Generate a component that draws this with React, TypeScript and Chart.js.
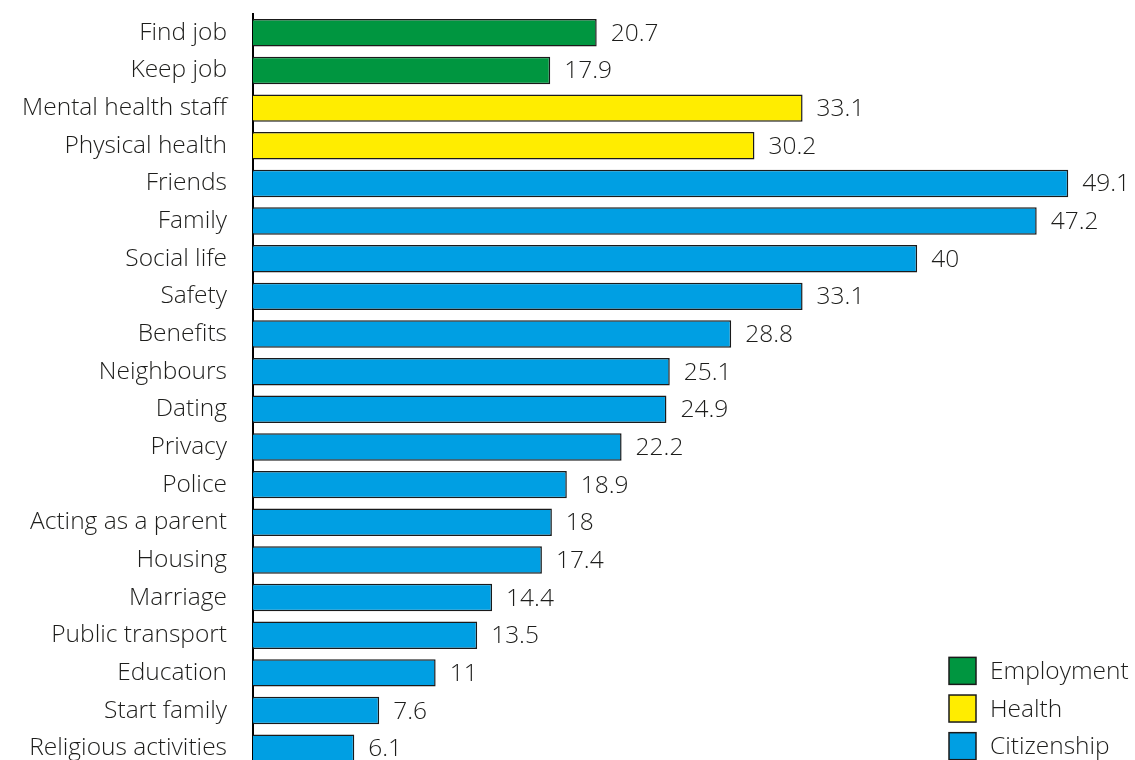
import React, { useEffect, useRef } from "react";
import { Chart, registerables } from "chart.js";

Chart.register(...registerables);

const categories = [
  "Find job", "Keep job", "Mental health staff", "Physical health", "Friends", "Family",
  "Social life", "Safety", "Benefits", "Neighbours", "Dating", "Privacy", "Police",
  "Acting as a parent", "Housing", "Marriage", "Public transport", "Education",
  "Start family", "Religious activities",
];
const employment = [20.7, 17.9, null, null, null, null, null, null, null, null, null, null, null, null, null, null, null, null, null, null];
const health = [null, null, 33.1, 30.2, null, null, null, null, null, null, null, null, null, null, null, null, null, null, null, null];
const citizenship = [null, null, null, null, 49.1, 47.2, 40, 33.1, 28.8, 25.1, 24.9, 22.2, 18.9, 18, 17.4, 14.4, 13.5, 11, 7.6, 6.1];
const seriesNames = ["Employment", "Health", "Citizenship"];
const seriesColors = ["#009640", "#FFED00", "#009FE3"];

const FONT = "'Open Sans', sans-serif";
const WEIGHT = "350";
const SIZE = 24.5;
const TEXT = "#1d1d1b";

const valueLabels = {
  id: "valueLabels",
  afterDatasetsDraw(chart: any) {
    const ctx = chart.ctx;
    ctx.save();
    ctx.font = `${WEIGHT} ${SIZE}px ${FONT}`;
    ctx.fillStyle = TEXT;
    ctx.textBaseline = "middle";
    ctx.textAlign = "left";
    chart.data.datasets.forEach((ds: any, di: number) => {
      const meta = chart.getDatasetMeta(di);
      meta.data.forEach((el: any, i: number) => {
        const v = ds.data[i];
        if (v === null || v === undefined) return;
        ctx.fillText(String(v), el.x + 14, el.y + 1);
      });
    });
    ctx.restore();
  },
};

const customLegend = {
  id: "customLegend",
  afterDraw(chart: any) {
    const ctx = chart.ctx;
    const yScale = chart.scales.y;
    const n = chart.data.datasets.length;
    const last = chart.data.labels.length - 1;
    ctx.save();
    ctx.font = `${WEIGHT} ${SIZE}px ${FONT}`;
    ctx.textBaseline = "middle";
    ctx.textAlign = "left";
    chart.data.datasets.forEach((ds: any, i: number) => {
      const y = yScale.getPixelForValue(last - (n - 1) + i) - 2;
      const size = 27;
      ctx.fillStyle = ds.backgroundColor;
      ctx.fillRect(949, y - size / 2, size, size);
      ctx.strokeStyle = "#1a1a1a";
      ctx.lineWidth = 1.5;
      ctx.strokeRect(949, y - size / 2, size, size);
      ctx.fillStyle = TEXT;
      ctx.fillText(ds.label, 990, y + 1);
    });
    ctx.restore();
  },
};

export default function App() {
  const ref = useRef<HTMLCanvasElement>(null);
  useEffect(() => {
    if (!ref.current) return;
    const chart = new Chart(ref.current, {
      type: "bar",
      data: {
        labels: categories,
        datasets: [employment, health, citizenship].map((d, i) => ({
          label: seriesNames[i],
          data: d,
          backgroundColor: seriesColors[i],
          borderColor: "#1a1a1a",
          borderWidth: 1.5,
          barPercentage: 0.73,
          categoryPercentage: 1,
          grouped: false,
        })),
      },
      options: {
        indexAxis: "y",
        animation: false,
        responsive: true,
        maintainAspectRatio: false,
        layout: { padding: { top: 14, right: 2, bottom: 0, left: 0 } },
        plugins: { legend: { display: false }, tooltip: { enabled: false } },
        scales: {
          x: { display: false, min: 0, max: 53 },
          y: {
            grid: { display: false, drawTicks: false },
            border: { display: true, color: "#000", width: 2 },
            ticks: {
              padding: 26,
              color: TEXT,
              font: { family: FONT, size: SIZE, weight: WEIGHT },
            },
            afterFit(scale: any) {
              scale.width = 253;
              scale.paddingTop = 0;
              scale.paddingBottom = 0;
            },
          },
        },
      } as any,
      plugins: [valueLabels, customLegend],
    });
    return () => chart.destroy();
  }, []);
  return (
    <div style={{ position: "fixed", left: 0, top: 0, width: 1135, height: 760, overflow: "hidden", background: "#fff" }}>
      <div style={{ position: "relative", width: 1135, height: 767 }}>
        <canvas ref={ref} />
      </div>
    </div>
  );
}
